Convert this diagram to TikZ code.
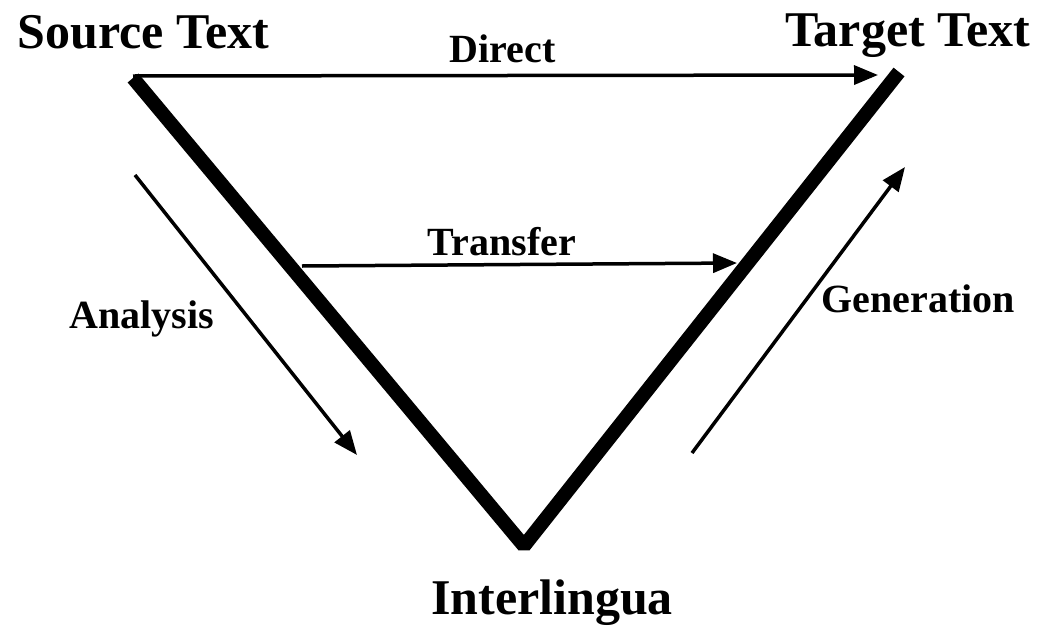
\documentclass[tikz,border=0pt]{standalone}
\usepackage{fontspec}
\setmainfont{Liberation Serif}
\usetikzlibrary{arrows.meta}

\begin{document}
\begin{tikzpicture}[x=1pt,y=-1pt, every node/.style={inner sep=0pt,anchor=base},
    ttl/.style={font=\fontsize{50}{54}\selectfont\bfseries},
    lbl/.style={font=\fontsize{40}{44}\selectfont\bfseries},
    arr/.style={line width=3.5pt,-{Triangle[length=24pt,width=19pt]}},
    vee/.style={line width=14pt,line join=bevel}]
  \useasboundingbox (0,0) rectangle (1047,627);
  % corners of the V
  \coordinate (src-end) at (133,78); \coordinate (il-end) at (524,546); \coordinate (tgt-end) at (899,72);
  % free ends of the thin arrows
  \coordinate (d1) at (133,76); \coordinate (d2) at (878,75);
  \coordinate (t1) at (302,266); \coordinate (t2) at (737,263);
  \coordinate (a1) at (135,175); \coordinate (a2) at (357,455);
  \coordinate (g1) at (692,453); \coordinate (g2) at (905,167);
  \draw[vee] (src-end) -- (il-end) -- (tgt-end);
  \draw[arr] (d1) -- (d2); \draw[arr] (t1) -- (t2);
  \draw[arr] (a1) -- (a2); \draw[arr] (g1) -- (g2);
  \node[ttl] (src) at (143.5,48) {Source Text};
  \node[ttl] (tgt) at (907.5,46) {Target Text};
  \node[ttl] (inter) at (552,614) {Interlingua};
  \node[lbl] (direct) at (502.5,62) {Direct};
  \node[lbl] (transfer) at (502,255) {Transfer};
  \node[lbl] (analysis) at (141.5,328) {Analysis};
  \node[lbl] (generation) at (918.5,312) {Generation};
\end{tikzpicture}
\end{document}
